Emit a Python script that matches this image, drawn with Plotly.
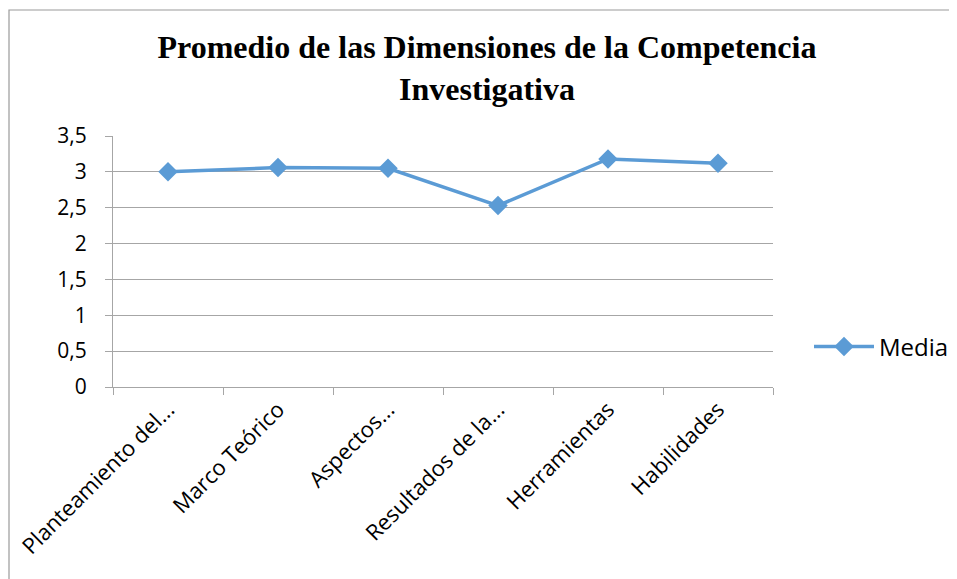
import plotly.graph_objects as go

categories = ["Planteamiento del...", "Marco Teórico", "Aspectos...", "Resultados de la...", "Herramientas", "Habilidades"]
media = [3.00, 3.06, 3.05, 2.53, 3.18, 3.12]
y_tickvals = [0, 0.5, 1, 1.5, 2, 2.5, 3, 3.5]
y_ticktext = ["0", "0,5", "1", "1,5", "2", "2,5", "3", "3,5"]
title_text = "<b>Promedio de las Dimensiones de la Competencia<br>Investigativa</b>"

# page has an 8px body offset
OFF = 8
W, H = 957, 579
L = 113 - OFF
T = 136 - OFF
R = W - (773 - OFF)
B = H - (387 - OFF)
pw, ph = W - L - R, H - T - B

fig = go.Figure()
fig.add_trace(go.Scatter(
    x=categories, y=media, mode="lines+markers", name="Media",
    line=dict(color="#5B9BD5", width=3.5),
    marker=dict(symbol="diamond", size=15, color="#5B9BD5"),
))

grid = "#A6A6A6"
fig.update_layout(
    width=W, height=H,
    margin=dict(l=L, r=R, t=T, b=B, autoexpand=False),
    paper_bgcolor="white", plot_bgcolor="white",
    title=dict(text=title_text, x=(487 - OFF) / W, xanchor="center", y=1 - (58 - OFF) / H, yanchor="middle",
               font=dict(family="Liberation Serif", size=32, color="black")),
    font=dict(family="Open Sans", size=21, color="black"),
    showlegend=True,
    legend=dict(x=(809 - OFF - L) / pw, y=(387 - 347) / ph, xanchor="left", yanchor="middle",
                font=dict(size=24), bgcolor="rgba(0,0,0,0)", itemwidth=60),
    xaxis=dict(type="category", tickangle=-45, showgrid=False, showline=True, linecolor=grid,
               ticks="outside", tickson="boundaries", ticklen=7, tickcolor=grid,
               tickfont=dict(size=22), range=[-0.5, 5.5], automargin=False),
    yaxis=dict(range=[0, 3.5], tickvals=y_tickvals, ticktext=y_ticktext, showgrid=True,
               gridcolor=grid, gridwidth=1, showline=True, linecolor=grid, ticks="outside",
               ticklen=7, tickcolor=grid, zeroline=False, tickfont=dict(size=21),
               ticklabelstandoff=14, automargin=False),
)

fig.add_shape(type="rect", xref="paper", yref="paper",
              x0=(9 - OFF - L) / pw, x1=(W + 20 - L) / pw,
              y0=-(B + 30) / ph, y1=(H - B - (10 - OFF)) / ph,
              line=dict(color="#9A9A9A", width=1.2), fillcolor="rgba(0,0,0,0)", layer="below")

fig.write_html("out.html")
